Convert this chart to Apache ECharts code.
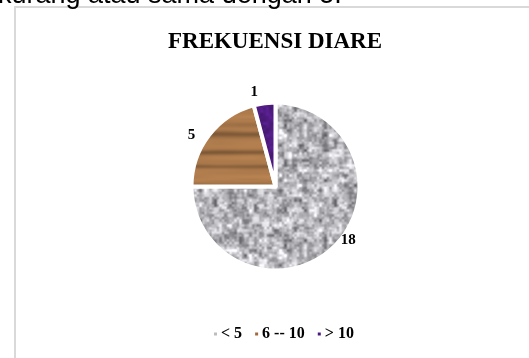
<!DOCTYPE html>
<html>
<head>
<meta charset="utf-8">
<script src="https://cdn.jsdelivr.net/npm/echarts@6/dist/echarts.min.js"></script>
<style>
html,body{margin:0;padding:0;background:#fff;}
#chart{width:529px;height:358px;}
</style>
</head>
<body>
<div id="chart"></div>
<script>
// ---- data ----
const categories = ['< 5', '6 -- 10', '> 10'];
const values = [18, 5, 1];
const chartTitle = 'FREKUENSI DIARE';
const topText = 'kurang atau sama dengan 5.';

// ---- deterministic texture helpers (style only) ----
function hash(i, j, s) {
  let h = Math.imul(i, 374761393) ^ Math.imul(j, 668265263) ^ Math.imul(s, 1442695041);
  h = Math.imul(h ^ (h >>> 13), 1274126177);
  h = h ^ (h >>> 16);
  return (h >>> 0) / 4294967295;
}
function valueNoise(x, y, cell, period, seed) {
  const gx = x / cell, gy = y / cell;
  const x0 = Math.floor(gx), y0 = Math.floor(gy);
  const fx = gx - x0, fy = gy - y0;
  const sx = fx * fx * (3 - 2 * fx), sy = fy * fy * (3 - 2 * fy);
  const w = (a) => ((a % period) + period) % period;
  const a = hash(w(x0), w(y0), seed), b = hash(w(x0 + 1), w(y0), seed);
  const c = hash(w(x0), w(y0 + 1), seed), d = hash(w(x0 + 1), w(y0 + 1), seed);
  return (a * (1 - sx) + b * sx) * (1 - sy) + (c * (1 - sx) + d * sx) * sy;
}
function makeCanvas(w, h, fn) {
  const cv = document.createElement('canvas');
  cv.width = w; cv.height = h;
  const ctx = cv.getContext('2d');
  const img = ctx.createImageData(w, h);
  for (let y = 0; y < h; y++) {
    for (let x = 0; x < w; x++) {
      const c = fn(x, y);
      const k = (y * w + x) * 4;
      img.data[k] = Math.max(0, Math.min(255, c[0]));
      img.data[k + 1] = Math.max(0, Math.min(255, c[1]));
      img.data[k + 2] = Math.max(0, Math.min(255, c[2]));
      img.data[k + 3] = 255;
    }
  }
  ctx.putImageData(img, 0, 0);
  return cv;
}
const granite = makeCanvas(120, 120, (x, y) => {
  const n1 = valueNoise(x, y, 5, 24, 1);
  const n2 = valueNoise(x, y, 2.5, 48, 2);
  const n = n1 * 0.6 + n2 * 0.4;
  const v = 180 + (n - 0.5) * 175;
  return [v, v, v + 5];
});
const woodBands = [[14, 2.2, 0.6], [32, 1.8, 0.55], [46, 1.6, 0.45], [5, 2.5, 0.2]];
const wood = makeCanvas(160, 60, (x, y) => {
  const g = valueNoise(x, y * 8, 30, 32, 4);
  let dark = 0;
  for (const b of woodBands) {
    let d = Math.abs(y - b[0]); d = Math.min(d, 60 - d);
    dark += b[2] * Math.exp(-(d * d) / (2 * b[1] * b[1]));
  }
  const base = [178, 126, 78];
  const f = 1 + (g - 0.5) * 0.08 - dark * 0.5;
  return [base[0] * f, base[1] * f, base[2] * f];
});
const purple = makeCanvas(48, 48, (x, y) => {
  const n = valueNoise(x, y, 3, 16, 5);
  const f = 0.85 + n * 0.3;
  return [80 * f, 28 * f, 130 * f];
});

const textures = [granite, wood, purple];
const legendColors = ['#bdbdbd', '#a4693b', '#4b1a7e'];
const labelShift = [[-7, -14], [0, 6], [0, 0]];

const chart = echarts.init(document.getElementById('chart'), null, {renderer: 'canvas'});
const serif = '"Liberation Serif", "Times New Roman", serif';

chart.setOption({
  animation: false,
  backgroundColor: '#ffffff',
  graphic: [
    {
      type: 'rect', silent: true, z: 0,
      shape: {x: 15, y: 7, width: 540, height: 370},
      style: {fill: '#ffffff', stroke: '#d9d9d9', lineWidth: 2}
    },
    {
      type: 'text', silent: true, z: 1,
      x: -2, y: -18,
      style: {
        text: topText,
        font: '27px "Liberation Sans", Arial, sans-serif',
        fill: '#000000',
        verticalAlign: 'top'
      }
    },
    {
      type: 'text', silent: true, z: 5,
      x: 275, y: 42,
      style: {
        text: chartTitle,
        font: 'bold 23px ' + serif,
        fill: '#000000',
        align: 'center',
        verticalAlign: 'middle'
      }
    }
  ],
  legend: {
    left: 212,
    top: 326,
    padding: 0,
    itemWidth: 5,
    itemHeight: 5,
    itemGap: 11,
    icon: 'rect',
    selectedMode: false,
    textStyle: {fontFamily: serif, fontWeight: 'bold', fontSize: 16, color: '#000000', padding: [0, 0, 0, -2]},
    data: categories.map((c, i) => ({name: c, itemStyle: {color: legendColors[i]}}))
  },
  series: [{
    type: 'pie',
    center: [275.5, 186.5],
    radius: 84,
    startAngle: 90,
    clockwise: true,
    avoidLabelOverlap: false,
    emphasis: {disabled: true},
    itemStyle: {borderColor: '#ffffff', borderWidth: 4},
    label: {
      show: true,
      position: 'outside',
      formatter: '{c}',
      fontFamily: serif,
      fontWeight: 'bold',
      fontSize: 15,
      color: '#000000'
    },
    labelLine: {show: false, length: 11, length2: 0},
    data: categories.map((c, i) => ({
      name: c,
      value: values[i],
      label: {offset: labelShift[i]},
      itemStyle: {color: {image: textures[i], repeat: 'repeat'}}
    }))
  }]
});
</script>
</body>
</html>
